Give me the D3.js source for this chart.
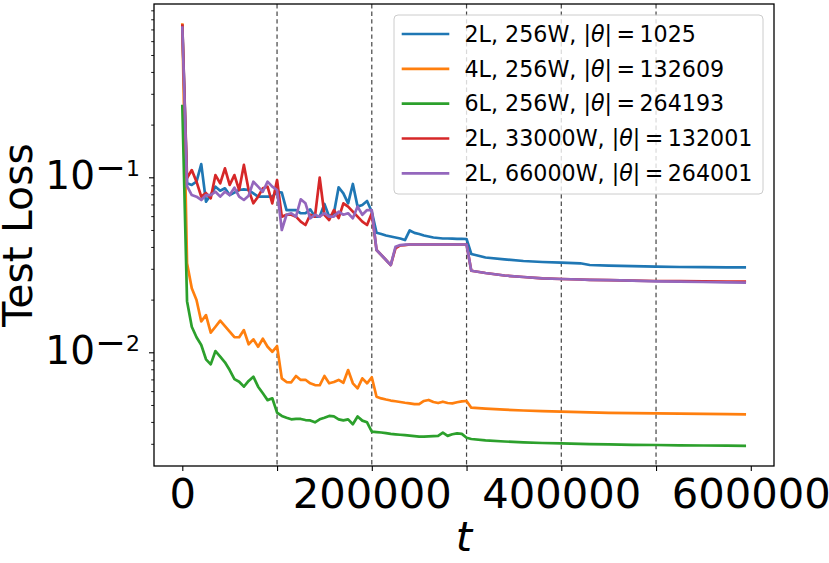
<!DOCTYPE html>
<html>
<head>
<meta charset="utf-8">
<script src="https://cdn.jsdelivr.net/npm/d3@7"></script>
<style>
  html, body { margin: 0; padding: 0; background: #fff; }
  svg { display: block; font-family: "DejaVu Sans", sans-serif; }
</style>
</head>
<body>
<svg id="chart" width="829" height="563"></svg>
<script>
// ---- data ----
const steps = [
  0, 5000, 10000, 15000, 20000, 25000, 30000, 35000, 40000, 45000,
  50000, 55000, 60000, 65000, 70000, 75000, 80000, 85000, 90000, 95000,
  100000, 105000, 110000, 115000, 120000, 125000, 130000, 135000, 140000, 145000,
  150000, 155000, 160000, 165000, 170000, 175000, 180000, 185000, 190000, 195000,
  200000, 205000, 210000, 215000, 220000, 225000, 230000, 235000, 240000, 245000,
  250000, 255000, 260000, 265000, 270000, 275000, 280000, 285000, 290000, 295000,
  300000, 305000, 320000, 340000, 360000, 380000, 400000, 420000, 430000, 450000,
  475000, 500000, 525000, 550000, 575000, 595000
];

const loss2L256W = [
  0.75, 0.0924, 0.0904, 0.0944, 0.119, 0.0726, 0.0792, 0.0884, 0.0838, 0.0865,
  0.0792, 0.0817, 0.0846, 0.0854, 0.0846, 0.081, 0.0775, 0.0775, 0.0775, 0.0775,
  0.0827, 0.0817, 0.065, 0.065, 0.065, 0.0623, 0.0623, 0.0656, 0.0596, 0.0596,
  0.0704, 0.0596, 0.0623, 0.0877, 0.081, 0.071, 0.0916, 0.068, 0.0695, 0.0732,
  0.0636, 0.0482, 0.0474, 0.0465, 0.0459, 0.0453, 0.0447, 0.0438, 0.0497, 0.0481,
  0.0474, 0.0465, 0.0459, 0.0453, 0.045, 0.0447, 0.0447, 0.0446, 0.0445, 0.0445,
  0.0444, 0.03645, 0.03481, 0.03399, 0.03324, 0.03281, 0.03251, 0.03226, 0.03154, 0.03126,
  0.03105, 0.03084, 0.03072, 0.03064, 0.0306, 0.0306
];

const loss4L256W = [
  0.76, 0.0323, 0.0232, 0.0199, 0.0150, 0.0163, 0.01295, 0.0140, 0.01517, 0.01413,
  0.01312, 0.01219, 0.01219, 0.0134, 0.01111, 0.01186, 0.01076, 0.01196, 0.01076, 0.01007,
  0.01086, 0.0071, 0.00676, 0.00674, 0.00732, 0.00695, 0.00697, 0.00665, 0.0065, 0.00648,
  0.00732, 0.00665, 0.00676, 0.00695, 0.0067, 0.00792, 0.00665, 0.00622, 0.0071, 0.00665,
  0.0072, 0.00557, 0.00545, 0.00537, 0.0053, 0.00525, 0.0052, 0.00515, 0.00511, 0.00506,
  0.00506, 0.00527, 0.00534, 0.0052, 0.00513, 0.00522, 0.00513, 0.00511, 0.00518, 0.00524,
  0.00527, 0.004824, 0.004761, 0.004699, 0.00465, 0.004607, 0.004577, 0.004547, 0.004535, 0.004511,
  0.004493, 0.004481, 0.004463, 0.004446, 0.004434, 0.004422
];

const loss6L256W = [
  0.26, 0.0196, 0.0140, 0.01219, 0.01101, 0.00912, 0.00853, 0.01017, 0.00944, 0.00877,
  0.00792, 0.00703, 0.00679, 0.00636, 0.00686, 0.00726, 0.00636, 0.00583, 0.00533, 0.00546,
  0.00452, 0.00433, 0.00423, 0.00414, 0.00416, 0.00416, 0.0041, 0.00408, 0.00398, 0.00414,
  0.00423, 0.00433, 0.0043, 0.00414, 0.00408, 0.00414, 0.00388, 0.0043, 0.00407, 0.00398,
  0.00352, 0.0035, 0.00348, 0.00345, 0.00342, 0.0034, 0.00338, 0.00336, 0.00334, 0.00332,
  0.0033, 0.0033, 0.00331, 0.00332, 0.00333, 0.00347, 0.00333, 0.0034, 0.00344, 0.00342,
  0.00325, 0.003196, 0.003141, 0.003093, 0.003056, 0.003032, 0.00302, 0.002998, 0.00299, 0.002977,
  0.002961, 0.002953, 0.002941, 0.002934, 0.002926, 0.002922
];

const loss2L33000W = [
  0.75, 0.099, 0.110, 0.0944, 0.0775, 0.0813, 0.0759, 0.103, 0.0924, 0.1126,
  0.0904, 0.103, 0.0846, 0.1177, 0.0846, 0.0710, 0.0775, 0.0865, 0.0884, 0.0710,
  0.0965, 0.0596, 0.0611, 0.0611, 0.0596, 0.0558, 0.0534, 0.0611, 0.0596, 0.0995,
  0.0611, 0.0570, 0.0650, 0.0585, 0.0710, 0.0680, 0.0636, 0.0596, 0.0558, 0.0534,
  0.0623, 0.0384, 0.0360, 0.0337, 0.0315, 0.0393, 0.0408, 0.0410, 0.0413, 0.0413,
  0.0413, 0.0413, 0.0413, 0.0413, 0.0413, 0.0413, 0.0413, 0.0413, 0.0413, 0.0413,
  0.0413, 0.02925, 0.02838, 0.02747, 0.02693, 0.02648, 0.02623, 0.02606, 0.02596, 0.02582,
  0.02568, 0.02555, 0.02548, 0.02541, 0.02538, 0.02538
];

const loss2L66000W = [
  0.73, 0.0891, 0.0792, 0.0775, 0.0742, 0.0792, 0.0792, 0.0827, 0.0775, 0.0827,
  0.0792, 0.0872, 0.0775, 0.0742, 0.0785, 0.0944, 0.0884, 0.0827, 0.0944, 0.0884,
  0.0846, 0.050, 0.0611, 0.0623, 0.0596, 0.0749, 0.071, 0.0583, 0.0611, 0.0596,
  0.0623, 0.0596, 0.0596, 0.0636, 0.0611, 0.0623, 0.0583, 0.068, 0.0611, 0.065,
  0.065, 0.0384, 0.036, 0.0337, 0.0315, 0.0401, 0.041, 0.0412, 0.0413, 0.0413,
  0.0413, 0.0413, 0.0413, 0.0413, 0.0413, 0.0413, 0.0413, 0.0413, 0.0413, 0.0413,
  0.0413, 0.02925, 0.02838, 0.02747, 0.02693, 0.02648, 0.02623, 0.02606, 0.02596, 0.02582,
  0.02568, 0.02544, 0.02535, 0.02521, 0.02508, 0.02498
];

const seriesNames = ["2L, 256W", "4L, 256W", "6L, 256W", "2L, 33000W", "2L, 66000W"];
const paramCounts = ["1025", "132609", "264193", "132001", "264001"];
const seriesValues = [loss2L256W, loss4L256W, loss6L256W, loss2L33000W, loss2L66000W];
const colors = ["#1f77b4", "#ff7f0e", "#2ca02c", "#d62728", "#9467bd"];

const xTicks = [0, 100000, 200000, 300000, 400000, 500000, 600000];
const xTickLabels = ["0", "", "200000", "", "400000", "", "600000"];
const phaseBoundaries = [100000, 200000, 300000, 400000, 500000];
const yMajorTicks = [0.1, 0.01];
const yMajorExp = ["1", "2"];
const yMinorTicks = [0.9, 0.8, 0.7, 0.6, 0.5, 0.4, 0.3, 0.2,
                     0.09, 0.08, 0.07, 0.06, 0.05, 0.04, 0.03, 0.02,
                     0.009, 0.008, 0.007, 0.006, 0.005, 0.004, 0.003];
const xDomain = [-29870, 624500];
const yDomain = [0.00224, 0.978];

// ---- layout ----
const L = 154, R = 774, T = 4, B = 466;
const svg = d3.select("#chart");

const x = d3.scaleLinear().domain(xDomain).range([L, R]);
const y = d3.scaleLog().domain(yDomain).range([B, T]);

// clip
svg.append("defs").append("clipPath").attr("id", "clip")
  .append("rect").attr("x", L).attr("y", T).attr("width", R - L).attr("height", B - T);

// dashed phase lines
svg.append("g").selectAll("line").data(phaseBoundaries).join("line")
  .attr("x1", d => x(d)).attr("x2", d => x(d))
  .attr("y1", T).attr("y2", B)
  .attr("stroke", "#444").attr("stroke-width", 1.2)
  .attr("stroke-dasharray", "4.4,3.2");

// lines
const line = d3.line()
  .x((d, i) => x(steps[i]))
  .y(d => y(d));

const gLines = svg.append("g").attr("clip-path", "url(#clip)");
seriesValues.forEach((vals, k) => {
  gLines.append("path")
    .datum(vals)
    .attr("d", line)
    .attr("fill", "none")
    .attr("stroke", colors[k])
    .attr("stroke-width", 2.7)
    .attr("stroke-linejoin", "round")
    .attr("stroke-linecap", "butt");
});

// x axis
const xAxis = d3.axisBottom(x).tickValues(xTicks)
  .tickFormat((d, i) => xTickLabels[i]).tickSize(5).tickPadding(4);
const gx = svg.append("g").attr("transform", `translate(0,${B})`).call(xAxis);
gx.select(".domain").remove();
gx.selectAll(".tick line").attr("stroke", "#000").attr("stroke-width", 1.1);
gx.selectAll(".tick text")
  .attr("font-family", "DejaVu Sans").attr("font-size", "41.7px").attr("fill", "#000")
  .attr("dy", null).attr("y", 42);

// y axis minor ticks
const yMinor = d3.axisLeft(y).tickValues(yMinorTicks).tickFormat("").tickSize(2.8);
const gyMinor = svg.append("g").attr("transform", `translate(${L},0)`).call(yMinor);
gyMinor.select(".domain").remove();
gyMinor.selectAll(".tick line").attr("stroke", "#000").attr("stroke-width", 0.9);

// y axis major ticks
const yMajor = d3.axisLeft(y).tickValues(yMajorTicks).tickFormat("").tickSize(5);
const gyMajor = svg.append("g").attr("transform", `translate(${L},0)`).call(yMajor);
gyMajor.select(".domain").remove();
gyMajor.selectAll(".tick line").attr("stroke", "#000").attr("stroke-width", 1.1);

// y tick labels 10^{-n}
yMajorTicks.forEach((v, i) => {
  const yy = y(v);
  const t = svg.append("text")
    .attr("x", 140).attr("y", yy + 12)
    .attr("text-anchor", "end").attr("fill", "#000")
    .attr("font-family", "DejaVu Sans");
  t.append("tspan").attr("font-size", "39px").text("10");
  t.append("tspan").attr("font-size", "37px").attr("dy", -9).text("\u2212");
  t.append("tspan").attr("font-size", "22px").attr("dy", -4).text(yMajorExp[i]);
});

// frame
svg.append("rect")
  .attr("x", L).attr("y", T).attr("width", R - L).attr("height", B - T)
  .attr("fill", "none").attr("stroke", "#000").attr("stroke-width", 1.3);

// axis labels
svg.append("text")
  .attr("x", (L + R) / 2).attr("y", 551)
  .attr("text-anchor", "middle").attr("font-size", "41.7px")
  .attr("font-style", "italic").attr("fill", "#000").text("t");

svg.append("text")
  .attr("transform", `translate(31.5,${(T + B) / 2}) rotate(-90)`)
  .attr("text-anchor", "middle").attr("font-size", "41px")
  .attr("fill", "#000").text("Test Loss");

// legend
const lg = svg.append("g");
lg.append("rect")
  .attr("x", 394).attr("y", 15).attr("width", 369).attr("height", 179)
  .attr("rx", 4).attr("ry", 4)
  .attr("fill", "#fff").attr("fill-opacity", 0.8)
  .attr("stroke", "#cccccc").attr("stroke-width", 1);

seriesNames.forEach((name, k) => {
  const ly = 34 + k * 34.83;
  lg.append("line")
    .attr("x1", 401.7).attr("x2", 449.3).attr("y1", ly).attr("y2", ly)
    .attr("stroke", colors[k]).attr("stroke-width", 2.7);
  const t = lg.append("text")
    .attr("x", 464.5).attr("y", ly + 7.8)
    .attr("font-size", "22.2px").attr("fill", "#000");
  t.append("tspan").text(name + ", |");
  t.append("tspan").attr("font-style", "italic").text("\u03b8");
  t.append("tspan").text("|\u2009=\u2009" + paramCounts[k]);
});
</script>
</body>
</html>
